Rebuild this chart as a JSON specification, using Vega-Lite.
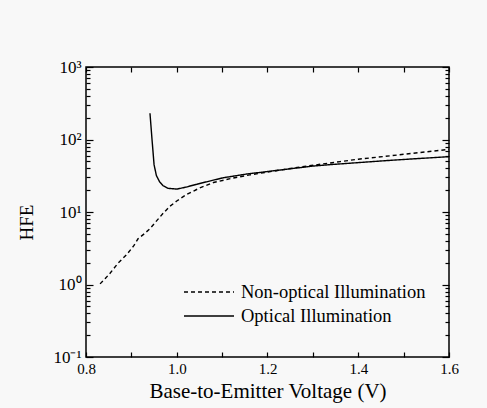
{
  "$schema": "https://vega.github.io/schema/vega-lite/v6.json",
  "width": 363,
  "height": 290,
  "autosize": "none",
  "padding": {"left": 86, "top": 67, "right": 38, "bottom": 51},
  "background": "#f8f8f8",
  "config": {
    "view": {"stroke": "#000000", "strokeWidth": 1.5},
    "font": "Liberation Serif",
    "axis": {"domain": false, "grid": false, "tickColor": "#000000", "labelColor": "#000000", "titleColor": "#000000", "labelFont": "Liberation Serif", "titleFont": "Liberation Serif", "titleFontWeight": "normal", "tickWidth": 1.2}
  },
  "data": {
    "values": [
      {"v": 0.831, "hfe": 1.02, "series": "Non-optical Illumination"},
      {"v": 0.842, "hfe": 1.2, "series": "Non-optical Illumination"},
      {"v": 0.853, "hfe": 1.43, "series": "Non-optical Illumination"},
      {"v": 0.870, "hfe": 1.95, "series": "Non-optical Illumination"},
      {"v": 0.890, "hfe": 2.6, "series": "Non-optical Illumination"},
      {"v": 0.905, "hfe": 3.4, "series": "Non-optical Illumination"},
      {"v": 0.915, "hfe": 4.3, "series": "Non-optical Illumination"},
      {"v": 0.930, "hfe": 5.1, "series": "Non-optical Illumination"},
      {"v": 0.941, "hfe": 5.9, "series": "Non-optical Illumination"},
      {"v": 0.956, "hfe": 7.6, "series": "Non-optical Illumination"},
      {"v": 0.970, "hfe": 9.6, "series": "Non-optical Illumination"},
      {"v": 0.985, "hfe": 12.0, "series": "Non-optical Illumination"},
      {"v": 1.000, "hfe": 14.2, "series": "Non-optical Illumination"},
      {"v": 1.022, "hfe": 17.5, "series": "Non-optical Illumination"},
      {"v": 1.051, "hfe": 21.5, "series": "Non-optical Illumination"},
      {"v": 1.081, "hfe": 25.5, "series": "Non-optical Illumination"},
      {"v": 1.125, "hfe": 29.5, "series": "Non-optical Illumination"},
      {"v": 1.161, "hfe": 32.5, "series": "Non-optical Illumination"},
      {"v": 1.200, "hfe": 35.5, "series": "Non-optical Illumination"},
      {"v": 1.227, "hfe": 37.8, "series": "Non-optical Illumination"},
      {"v": 1.270, "hfe": 41.5, "series": "Non-optical Illumination"},
      {"v": 1.316, "hfe": 45.5, "series": "Non-optical Illumination"},
      {"v": 1.360, "hfe": 49.5, "series": "Non-optical Illumination"},
      {"v": 1.400, "hfe": 53.5, "series": "Non-optical Illumination"},
      {"v": 1.459, "hfe": 58.5, "series": "Non-optical Illumination"},
      {"v": 1.500, "hfe": 62.5, "series": "Non-optical Illumination"},
      {"v": 1.550, "hfe": 67.5, "series": "Non-optical Illumination"},
      {"v": 1.600, "hfe": 73, "series": "Non-optical Illumination"},
      {"v": 0.941, "hfe": 230, "series": "Optical Illumination"},
      {"v": 0.9455, "hfe": 100, "series": "Optical Illumination"},
      {"v": 0.950, "hfe": 45, "series": "Optical Illumination"},
      {"v": 0.955, "hfe": 32, "series": "Optical Illumination"},
      {"v": 0.962, "hfe": 26.2, "series": "Optical Illumination"},
      {"v": 0.970, "hfe": 23, "series": "Optical Illumination"},
      {"v": 0.981, "hfe": 21.2, "series": "Optical Illumination"},
      {"v": 1.000, "hfe": 20.7, "series": "Optical Illumination"},
      {"v": 1.020, "hfe": 22, "series": "Optical Illumination"},
      {"v": 1.044, "hfe": 24.1, "series": "Optical Illumination"},
      {"v": 1.070, "hfe": 26.5, "series": "Optical Illumination"},
      {"v": 1.103, "hfe": 29.7, "series": "Optical Illumination"},
      {"v": 1.154, "hfe": 33.4, "series": "Optical Illumination"},
      {"v": 1.227, "hfe": 37.9, "series": "Optical Illumination"},
      {"v": 1.300, "hfe": 43, "series": "Optical Illumination"},
      {"v": 1.338, "hfe": 45, "series": "Optical Illumination"},
      {"v": 1.400, "hfe": 48, "series": "Optical Illumination"},
      {"v": 1.459, "hfe": 51, "series": "Optical Illumination"},
      {"v": 1.520, "hfe": 54, "series": "Optical Illumination"},
      {"v": 1.600, "hfe": 58, "series": "Optical Illumination"}
    ]
  },
  "layer": [
    {
      "mark": {"type": "line", "color": "#000000", "strokeWidth": 1.4, "clip": true},
      "encoding": {
        "x": {
          "field": "v", "type": "quantitative",
          "scale": {"domain": [0.8, 1.6], "nice": false, "zero": false},
          "axis": {
            "orient": "bottom",
            "values": [0.8, 0.9, 1.0, 1.1, 1.2, 1.3, 1.4, 1.5, 1.6],
            "tickSize": -5,
            "labelPadding": 9,
            "labelFont": "Liberation Serif",
            "labelFontSize": 15,
            "labelExpr": "indexof([0.8, 1, 1.2, 1.4, 1.6], datum.value) >= 0 ? format(datum.value, '.1f') : ''",
            "labelFlush": false,
            "labelOverlap": false,
            "title": "Base-to-Emitter Voltage (V)",
            "titleFont": "Liberation Serif",
            "titleFontSize": 21,
            "titlePadding": 4
          }
        },
        "y": {
          "field": "hfe", "type": "quantitative",
          "scale": {"type": "log", "domain": [0.1, 1000], "nice": false},
          "axis": {
            "orient": "left",
            "values": [0.1, 0.2, 0.3, 0.4, 0.5, 0.6, 0.7, 0.8, 0.9, 1, 2, 3, 4, 5, 6, 7, 8, 9, 10, 20, 30, 40, 50, 60, 70, 80, 90, 100, 200, 300, 400, 500, 600, 700, 800, 900, 1000],
            "tickSize": {"condition": {"test": "indexof([0.1, 1, 10, 100, 1000], datum.value) >= 0", "value": -7}, "value": -4},
            "labelPadding": 12,
            "labelFont": "Liberation Serif",
            "labelFontSize": 17,
            "labelExpr": "datum.value == 1000 ? '10³' : datum.value == 100 ? '10²' : datum.value == 10 ? '10¹' : datum.value == 1 ? '10⁰' : datum.value == 0.1 ? '10⁻¹' : ''",
            "labelOverlap": false,
            "labelFlush": false,
            "title": "HFE",
            "titleFont": "Liberation Serif",
            "titleFontSize": 19,
            "titlePadding": 16,
            "titleY": 155
          }
        },
        "strokeDash": {
          "field": "series", "type": "nominal",
          "scale": {"domain": ["Non-optical Illumination", "Optical Illumination"], "range": [[4, 3], [1, 0]]},
          "legend": {
            "orient": "none",
            "legendX": 97,
            "legendY": 216,
            "title": null,
            "symbolType": "stroke",
            "symbolSize": 2500,
            "symbolStrokeWidth": 1.3,
            "symbolStrokeColor": "#000000",
            "labelFont": "Liberation Serif",
            "labelFontSize": 18.5,
            "labelColor": "#000000",
            "labelOffset": 6,
            "labelLimit": 0,
            "clipHeight": 18,
            "rowPadding": 5,
            "padding": 0
          }
        }
      }
    },
    {
      "mark": {"type": "line", "opacity": 0},
      "encoding": {
        "x": {
          "field": "v", "type": "quantitative",
          "axis": {
            "orient": "top",
            "values": [0.8, 0.9, 1.0, 1.1, 1.2, 1.3, 1.4, 1.5, 1.6],
            "tickSize": -5,
            "labels": false,
            "title": null
          }
        },
        "y": {
          "field": "hfe", "type": "quantitative",
          "axis": {
            "orient": "right",
            "values": [0.1, 0.2, 0.3, 0.4, 0.5, 0.6, 0.7, 0.8, 0.9, 1, 2, 3, 4, 5, 6, 7, 8, 9, 10, 20, 30, 40, 50, 60, 70, 80, 90, 100, 200, 300, 400, 500, 600, 700, 800, 900, 1000],
            "tickSize": {"condition": {"test": "indexof([0.1, 1, 10, 100, 1000], datum.value) >= 0", "value": -7}, "value": -4},
            "labels": false,
            "title": null
          }
        },
        "detail": {"field": "series"}
      }
    }
  ]
}
